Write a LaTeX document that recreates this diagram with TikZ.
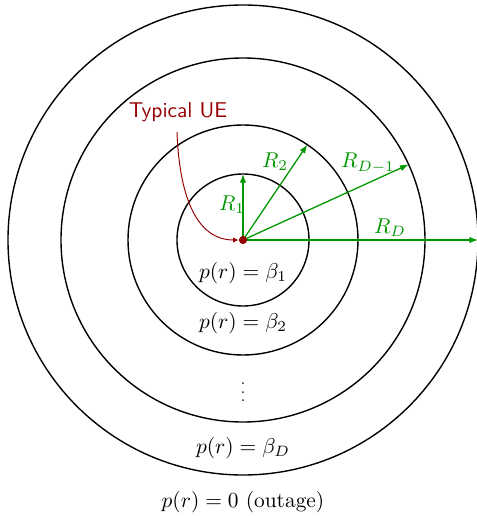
\documentclass[tikz,border=0pt]{standalone}
\usetikzlibrary{arrows.meta}
\definecolor{ringgreen}{RGB}{0,150,0}
\definecolor{uered}{RGB}{150,0,0}
\begin{document}
\begin{tikzpicture}[x=0.467pt,y=0.467pt,
  ring/.style={draw=black,line width=0.65pt},
  radarrow/.style={draw=ringgreen,line width=0.6pt,-{Latex[length=4pt,width=3pt]}},
  rlabel/.style={text=ringgreen,inner sep=1pt},
  zone/.style={inner sep=0pt}]
\useasboundingbox (-243,-276) rectangle (233,240);
\coordinate (c) at (0,0);
\draw[ring] (c) circle[radius=66];
\draw[ring] (c) circle[radius=115];
\draw[ring] (c) circle[radius=182];
\draw[ring] (c) circle[radius=235];
\coordinate (t1) at (90:66);
\coordinate (t2) at (56:115);
\coordinate (t3) at (24.5:182);
\coordinate (t4) at (0:235);
\draw[radarrow] (c) -- (t1);
\draw[radarrow] (c) -- (t2);
\draw[radarrow] (c) -- (t3);
\draw[radarrow] (c) -- (t4);
\node[rlabel] (l1) at (-11,35) {$R_1$};
\node[rlabel] (l2) at (32,78) {$R_2$};
\node[rlabel] (l3) at (125,77) {$R_{D-1}$};
\node[rlabel] (l4) at (147,12) {$R_D$};
\node[zone] (z1) at (0,-33) {$p(r)=\beta_1$};
\node[zone] (z2) at (0,-83) {$p(r)=\beta_2$};
\node[zone,font=\scriptsize] (z3) at (0,-146) {$\vdots$};
\node[zone] (z4) at (0,-208) {$p(r)=\beta_D$};
\node[zone] (z5) at (0,-262) {$p(r)=0$ (outage)};
\node[text=uered,font=\sffamily,inner sep=1pt,anchor=south] (ue) at (-65,116) {Typical UE};
\node[circle,fill=uered,inner sep=0pt,minimum size=3.8pt] (dot) at (c) {};
\draw[uered,line width=0.45pt,-{Latex[length=2.5pt,width=2.5pt]}] (ue.south) ++(-1,-8) to[out=-88,in=180] (dot.west);
\end{tikzpicture}
\end{document}
